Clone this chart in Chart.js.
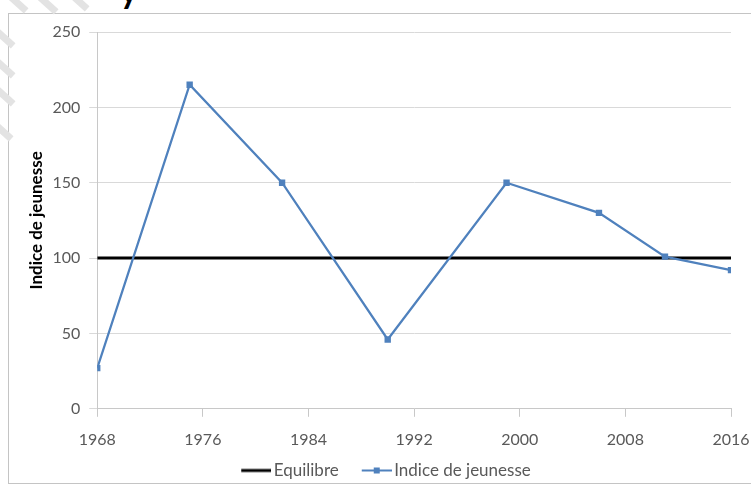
<!DOCTYPE html>
<html lang="fr">
<head>
  <meta charset="UTF-8">
  <title>Indice de jeunesse</title>
  <style>
    html, body { margin: 0; padding: 0; background: #fff; overflow: hidden; }
    .frame { position: absolute; left: 8px; top: 13px; width: 760px; height: 469px; border: 1px solid #c4c4c4; }
    .cut { position: absolute; left: 120px; top: 0; width: 40px; height: 9px; overflow: hidden; }
    .cut span { position: absolute; left: 0; top: -27px; font: bold 34px Lato, sans-serif; line-height: 34px; color: #000; }
    .wm { position: absolute; width: 22px; height: 7px; background: #e3e3e3; transform: rotate(42deg); }
    .chartBox { position: absolute; left: 0; top: 0; width: 751px; height: 485px; }
  </style>
</head>
<body>
  <div class="frame"></div>
  <div class="wm" style="left:7px;top:0px"></div>
  <div class="wm" style="left:37px;top:1px"></div>
  <div class="wm" style="left:68px;top:-2px"></div>
  <div class="wm" style="left:-6px;top:35px"></div>
  <div class="wm" style="left:-6px;top:65px"></div>
  <div class="wm" style="left:-6px;top:93px"></div>
  <div class="wm" style="left:-8px;top:128px"></div>
  <div class="cut"><span>y</span></div>
  <div class="chartBox">
    <canvas id="myChart" width="751" height="485"></canvas>
  </div>

  <script src="https://cdn.jsdelivr.net/npm/chart.js"></script>
  <script>
    // Data block
    const years = [1968, 1975, 1982, 1990, 1999, 2006, 2011, 2016];
    const indiceValues = [27, 215, 150, 46, 150, 130, 101, 92];
    const equilibreYears = [1968, 2016];
    const equilibreValues = [100, 100];
    const xTicks = [1968, 1976, 1984, 1992, 2000, 2008, 2016];
    const yTicks = [0, 50, 100, 150, 200, 250];

    const blue = '#4f81bd';
    const font = 'Lato';

    // legend symbols: a short line at the right of a wider image (left part left blank as spacing)
    function legendSymbol(color, width, marker) {
      const c = document.createElement('canvas');
      c.width = 59; c.height = 8;
      const g = c.getContext('2d');
      g.strokeStyle = color;
      g.lineWidth = width;
      g.beginPath(); g.moveTo(29, 4); g.lineTo(59, 4); g.stroke();
      if (marker) { g.fillStyle = color; g.fillRect(41, 1, 6, 6); }
      return c;
    }
    const symEquilibre = legendSymbol('#000', 3, false);
    const symIndice = legendSymbol(blue, 2, true);

    // Setup block
    const data = {
      datasets: [{
        label: 'Indice de jeunesse',
        data: years.map((y, i) => ({x: y, y: indiceValues[i]})),
        borderColor: blue,
        backgroundColor: blue,
        borderWidth: 2.25,
        pointStyle: 'rect',
        pointRadius: 4.5,
        pointBorderWidth: 0,
        tension: 0
      }, {
        label: 'Equilibre',
        data: equilibreYears.map((y, i) => ({x: y, y: equilibreValues[i]})),
        borderColor: '#000',
        backgroundColor: '#000',
        borderWidth: 3,
        pointRadius: 0
      }]
    };

    // Config block
    const config = {
      type: 'line',
      data,
      options: {
        responsive: false,
        animation: false,
        layout: { padding: { left: 18, right: 20, top: 32, bottom: -4 } },
        plugins: {
          tooltip: { enabled: false },
          legend: {
            position: 'bottom',
            labels: {
              usePointStyle: true,
              pointStyleWidth: 47,
              padding: 0,
              color: '#595959',
              font: { family: font, size: 17 },
              generateLabels: (chart) => [1, 0].map(i => ({
                text: chart.data.datasets[i].label,
                pointStyle: i === 1 ? symEquilibre : symIndice,
                datasetIndex: i,
                hidden: !chart.isDatasetVisible(i),
                fontColor: '#595959',
                lineWidth: 0
              }))
            }
          }
        },
        scales: {
          x: {
            type: 'linear',
            min: xTicks[0],
            max: xTicks[xTicks.length - 1],
            afterBuildTicks: (axis) => { axis.ticks = xTicks.map(v => ({value: v})); },
            afterFit: (axis) => { axis.paddingRight = 20; },
            ticks: {
              color: '#595959',
              font: { family: font, size: 16 },
              padding: 13,
              maxRotation: 0,
              callback: (v) => String(v)
            },
            grid: { drawOnChartArea: false, tickLength: 8, color: '#c8c8c8' },
            border: { color: '#c8c8c8' }
          },
          y: {
            min: 0,
            max: 250,
            afterBuildTicks: (axis) => { axis.ticks = yTicks.map(v => ({value: v})); },
            ticks: {
              color: '#595959',
              font: { family: font, size: 16 },
              padding: 9
            },
            grid: { color: '#d9d9d9', tickLength: 8 },
            border: { color: '#c8c8c8' },
            title: {
              display: true,
              text: 'Indice de jeunesse',
              color: '#000',
              font: { family: font, size: 17, weight: 'bold' },
              padding: { top: 8, bottom: -3 }
            }
          }
        }
      }
    };

    // Init Render block
    const myChart = new Chart(document.getElementById('myChart'), config);
  </script>
</body>
</html>
